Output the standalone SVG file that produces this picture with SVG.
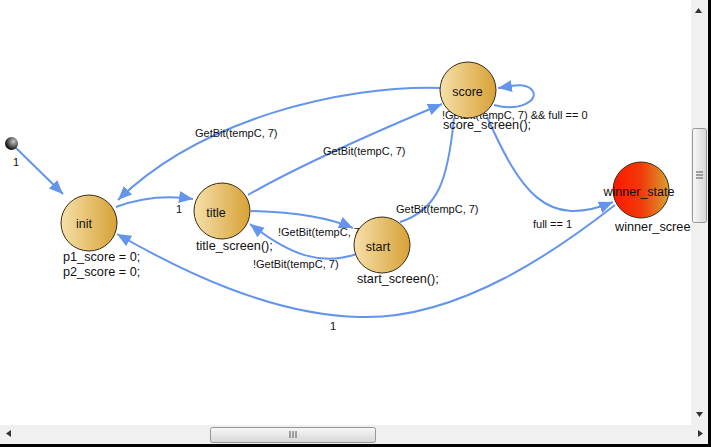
<svg xmlns="http://www.w3.org/2000/svg" width="711" height="447" viewBox="0 0 711 447">
<style>
.edge{fill:none;stroke:#6495ED;stroke-width:2;}
.elab{font-family:"Liberation Sans",Arial,sans-serif;font-size:11px;fill:#111;}
.nlab{font-family:"Liberation Sans",Arial,sans-serif;font-size:12.5px;fill:#111;text-anchor:middle;}
.act{font-family:"Liberation Sans",Arial,sans-serif;font-size:12.7px;fill:#111;}
.state{stroke:#3a2a10;stroke-width:1;}
.arrowglyph{fill:#333;}
</style>
<defs>
<linearGradient id="gold" x1="0" y1="0" x2="1" y2="0">
<stop offset="0" stop-color="#F6E0AA"/>
<stop offset="1" stop-color="#D7A136"/>
</linearGradient>
<linearGradient id="red" x1="0" y1="0" x2="1" y2="0">
<stop offset="0" stop-color="#FF1800"/>
<stop offset="0.5" stop-color="#F03A0A"/>
<stop offset="1" stop-color="#D9A030"/>
</linearGradient>
<radialGradient id="dot" cx="0.65" cy="0.35" r="0.7">
<stop offset="0" stop-color="#c8c8c8"/>
<stop offset="1" stop-color="#000"/>
</radialGradient>
<linearGradient id="thumbV" x1="0" y1="0" x2="1" y2="0">
<stop offset="0" stop-color="#f8f8f8"/>
<stop offset="1" stop-color="#d6d6d6"/>
</linearGradient>
<linearGradient id="thumbH" x1="0" y1="0" x2="0" y2="1">
<stop offset="0" stop-color="#f8f8f8"/>
<stop offset="1" stop-color="#d6d6d6"/>
</linearGradient>
<marker id="arr" markerUnits="userSpaceOnUse" markerWidth="15" markerHeight="13" refX="14" refY="6" orient="auto">
<path d="M0,0 L14,6 L0,12 z" fill="#6495ED"/>
</marker>
</defs>
<rect x="0" y="0" width="711" height="447" fill="#fff"/>

<g id="connectors">
<path class="edge" d="M15,147 L63,194" marker-end="url(#arr)"/>
<path class="edge" d="M116,207 C140,198 165,195 193,199" marker-end="url(#arr)"/>
<path class="edge" d="M441,88 C340,85 200,120 118,200" marker-end="url(#arr)"/>
<path class="edge" d="M248,195 C300,165 380,130 442,104" marker-end="url(#arr)"/>
<path class="edge" d="M251,211 C290,212 325,216 353,228" marker-end="url(#arr)"/>
<path class="edge" d="M357,254 C320,266 290,255 250,224" marker-end="url(#arr)"/>
<path class="edge" d="M400,222 C438,210 448,180 454,118"/>
<path class="edge" d="M487,117 C520,190 545,230 613,202" marker-end="url(#arr)"/>
<path class="edge" d="M494,105 C520,112 540,100 532,90 C525,82 512,86 498,88" marker-end="url(#arr)"/>
<path class="edge" d="M615,205 C560,248 460,320 360,317 C270,315 180,270 117,234" marker-end="url(#arr)"/>
<text class="elab" x="13" y="166">1</text>
<text class="elab" x="176" y="213">1</text>
<text class="elab" x="195" y="137">GetBit(tempC, 7)</text>
<text class="elab" x="323" y="155">GetBit(tempC, 7)</text>
<text class="elab" x="396" y="213">GetBit(tempC, 7)</text>
<text class="elab" x="278" y="236">!GetBit(tempC, 7)</text>
<text class="elab" x="253" y="268">!GetBit(tempC, 7)</text>
<text class="elab" x="442" y="119">!GetBit(tempC, 7) &amp;&amp; full == 0</text>
<text class="elab" x="533" y="228">full == 1</text>
<text class="elab" x="330" y="330">1</text>
</g>

<g id="initial">
<circle cx="11.5" cy="143.5" r="6.5" fill="url(#dot)"/>
</g>
<g id="init">
<circle class="state" cx="89" cy="223" r="28" fill="url(#gold)"/>
<text class="nlab" x="84" y="228">init</text>
<text class="act" x="63" y="261">p1_score = 0;</text>
<text class="act" x="63" y="276">p2_score = 0;</text>
</g>
<g id="title">
<circle class="state" cx="222" cy="211" r="28" fill="url(#gold)"/>
<text class="nlab" x="216" y="217">title</text>
<text class="act" x="196" y="250">title_screen();</text>
</g>
<g id="score">
<circle class="state" cx="468" cy="90" r="28" fill="url(#gold)"/>
<text class="nlab" x="467.5" y="96">score</text>
<text class="act" x="443" y="129">score_screen();</text>
</g>
<g id="start">
<circle class="state" cx="382" cy="245" r="28" fill="url(#gold)"/>
<text class="nlab" x="378" y="251">start</text>
<text class="act" x="357" y="283">start_screen();</text>
</g>
<g id="winner_state">
<circle class="state" cx="641" cy="190" r="28" fill="url(#red)"/>
<text class="nlab" x="639" y="196">winner_state</text>
<text class="act" x="615" y="231">winner_screen();</text>
</g>

<g id="scrollbars">
<rect x="691" y="0" width="17" height="425" fill="#f0f0f0"/>
<rect x="692.5" y="128.5" width="14" height="94" rx="2" fill="url(#thumbV)" stroke="#979797"/>
<path d="M696,172 h7 M696,175 h7 M696,178 h7" stroke="#555" stroke-width="1"/>
<path class="arrowglyph" d="M695,13 L702,13 L698.5,8 z"/>
<path class="arrowglyph" d="M696,412 L703,412 L699.5,417 z"/>
<rect x="0" y="425" width="708" height="19" fill="#f0f0f0"/>
<rect x="210.5" y="427.5" width="165" height="15" rx="2" fill="url(#thumbH)" stroke="#979797"/>
<path d="M290,431 v7 M293,431 v7 M296,431 v7" stroke="#555" stroke-width="1"/>
<path class="arrowglyph" d="M11,430 L11,437 L6,433.5 z"/>
<path class="arrowglyph" d="M698,430 L698,437 L703,433.5 z"/>
<rect x="708" y="0" width="3" height="447" fill="#000"/>
<rect x="0" y="444" width="711" height="3" fill="#000"/>
</g>
</svg>
